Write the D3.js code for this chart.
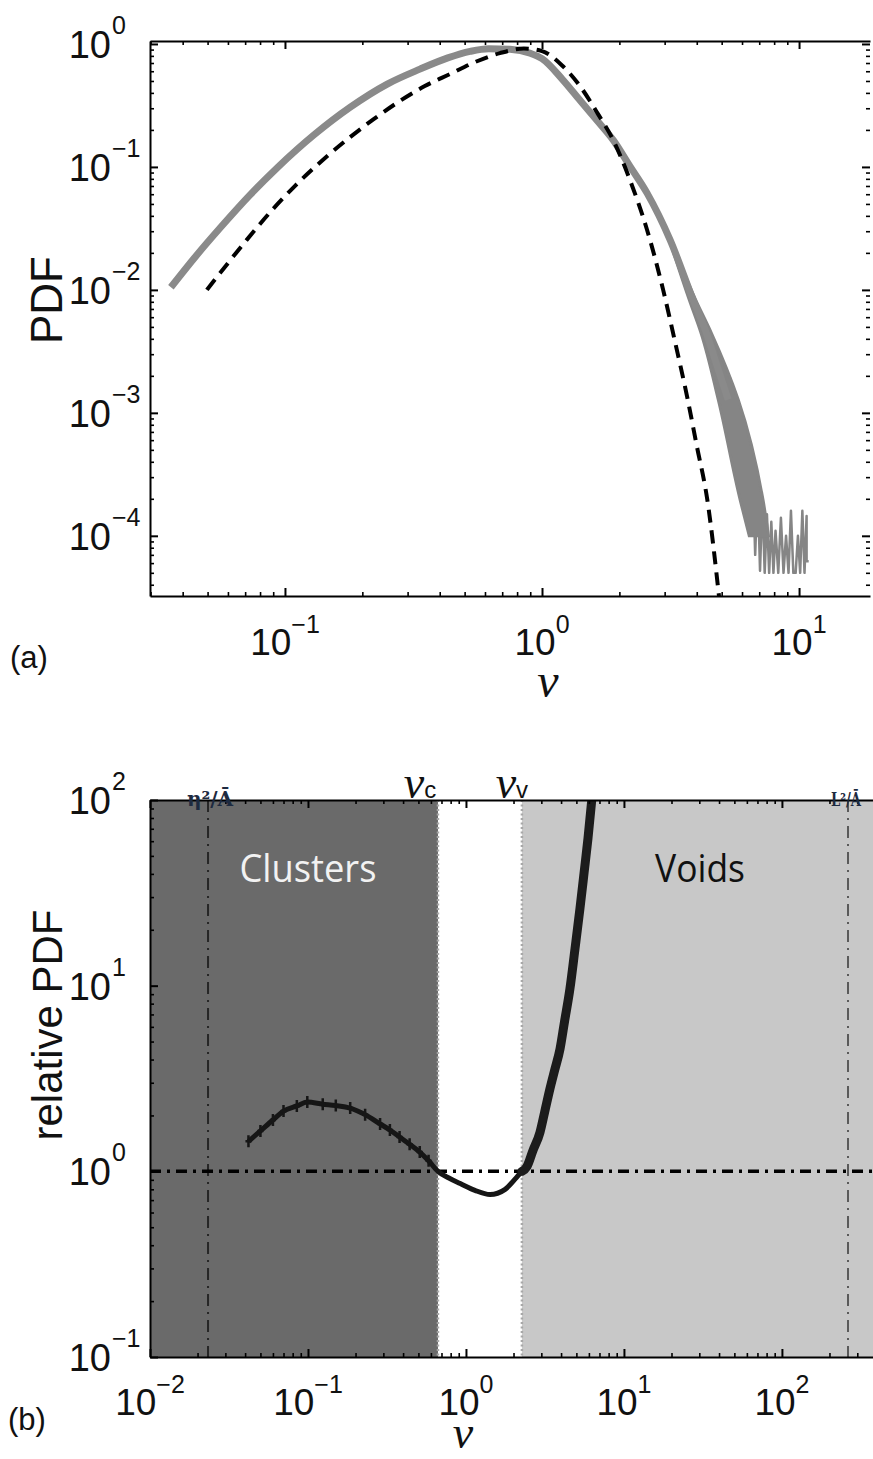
<!DOCTYPE html>
<html lang="en">
<head>
<meta charset="UTF-8">
<title>PDF of normalized cell areas</title>
<style>
  body { margin: 0; padding: 0; overflow: hidden; background: #fff; }
  svg { display: block; }
  text { font-family: "Liberation Sans", Arial, sans-serif; }
</style>
</head>
<body>
<script src="https://d3js.org/d3.v7.min.js"></script>
<script>
const width = 873, height = 1459;

// ---- panel (a): measured PDF (grey band) and reference curve (dashed) ----
const grayNu  = [0.036, 0.045, 0.056, 0.073, 0.094, 0.13, 0.179, 0.25, 0.335, 0.43, 0.525, 0.62, 0.75, 0.9, 1.0, 1.2, 1.41, 1.65, 1.89, 2.2, 2.56, 3.15, 3.87, 4.35, 4.8, 5.3];
const grayPdf = [0.0105, 0.0188, 0.032, 0.059, 0.100, 0.183, 0.305, 0.472, 0.624, 0.77, 0.87, 0.915, 0.905, 0.84, 0.76, 0.516, 0.345, 0.234, 0.166, 0.101, 0.0615, 0.0255, 0.0083, 0.0045, 0.0024, 0.00128];

// the band widens at large nu: left and right edge of the band at given PDF levels
const bandPdf  = [0.0255, 0.0083, 0.0045, 0.00128, 1.96e-4, 1.0e-4];
const bandNuLo = [3.13, 3.74, 4.15, 4.85, 5.9, 6.4];
const bandNuHi = [3.17, 3.96, 4.55, 5.8, 7.24, 7.6];

// noisy tail of the measured PDF
const tailNu  = [5.25, 5.4, 5.55, 5.7, 5.85, 6.0, 6.15, 6.3, 6.45, 6.6, 6.75, 6.9, 7.05, 7.2, 7.35, 7.5, 7.65, 7.8, 7.95, 8.1, 8.3, 8.5, 8.7, 8.9, 9.1, 9.3, 9.5, 9.7, 9.9, 10.1, 10.3, 10.5, 10.7, 10.7, 10.9];
const tailPdf = [1.0e-3, 1.9e-3, 6.0e-4, 1.2e-3, 3.2e-4, 8.0e-4, 1.8e-4, 5.0e-4, 1.1e-4, 3.6e-4, 7.0e-5, 2.6e-4, 5.2e-5, 2.0e-4, 5.0e-5, 1.5e-4, 5.0e-5, 1.3e-4, 5.0e-5, 1.1e-4, 5.0e-5, 1.4e-4, 5.0e-5, 1.0e-4, 5.0e-5, 1.6e-4, 5.0e-5, 5.0e-5, 1.0e-4, 5.0e-5, 1.6e-4, 5.0e-5, 1.45e-4, 6.2e-5, 6.2e-5];

const dashNu  = [0.0497, 0.06, 0.071, 0.09, 0.109, 0.14, 0.179, 0.22, 0.28, 0.35, 0.44, 0.55, 0.686, 0.85, 1.0, 1.2, 1.41, 1.65, 1.89, 2.2, 2.56, 2.96, 3.3, 3.67, 4.0, 4.39, 4.9];
const dashPdf = [0.0100, 0.0165, 0.0255, 0.0456, 0.0695, 0.1134, 0.1743, 0.2424, 0.344, 0.4544, 0.571, 0.714, 0.842, 0.918, 0.875, 0.665, 0.45, 0.27, 0.166, 0.078, 0.031, 0.0100, 0.0037, 0.00135, 5.4e-4, 2.0e-4, 3.0e-5];

// ---- panel (b): relative PDF ----
const relNu  = [0.042, 0.05, 0.06, 0.07, 0.085, 0.099, 0.124, 0.15, 0.185, 0.23, 0.286, 0.33, 0.38, 0.44, 0.51, 0.58, 0.665, 0.78, 0.92, 1.14, 1.42, 1.77, 2.05, 2.26, 2.43, 2.65, 2.94, 3.15, 3.4, 3.65, 3.94, 4.2, 4.55, 4.9, 5.27, 5.6, 5.92, 6.27];
const relPdf = [1.45, 1.65, 1.89, 2.11, 2.25, 2.36, 2.30, 2.26, 2.19, 2.02, 1.80, 1.67, 1.53, 1.40, 1.27, 1.14, 1.0, 0.92, 0.86, 0.79, 0.75, 0.80, 0.91, 1.0, 1.06, 1.29, 1.62, 2.09, 2.78, 3.53, 4.57, 6.36, 9.6, 15.8, 26.1, 40.9, 62, 102];

const nuC = 0.665, nuV = 2.26;       // cluster / void thresholds
const etaLine = 0.0233, lLine = 262; // eta^2/A and L^2/A

const xExpA = [-1, 0, 1];
const yExpA = [-4, -3, -2, -1, 0];
const xExpB = [-2, -1, 0, 1, 2];
const yExpB = [-1, 0, 1, 2];

const svg = d3.select("body").append("svg")
    .attr("width", width)
    .attr("height", height);
svg.append("rect").attr("width", width).attr("height", height).attr("fill", "#fff");

// scales
const xa = d3.scaleLog().domain([0.02985, 18.88]).range([150, 870]);
const ya = d3.scaleLog().domain([3.24e-5, 1.057]).range([596, 41]);
const xb = d3.scaleLog().domain([0.01, 394]).range([150, 876]);
const yb = d3.scaleLog().domain([0.1, 100]).range([1357, 800]);

const minorTicks = (dom) => {
    const out = [];
    for (let e = Math.floor(Math.log10(dom[0])); e <= Math.ceil(Math.log10(dom[1])); e++) {
        for (let m = 2; m <= 9; m++) {
            const v = m * Math.pow(10, e);
            if (v >= dom[0] && v <= dom[1]) out.push(v);
        }
    }
    return out;
};

// draw ticks for one side of a box
const drawSide = (axisFn, scale, tr, exps, withLine) => {
    const major = exps.map(e => Math.pow(10, e));
    const g = svg.append("g").attr("transform", tr);
    g.call(axisFn(scale).tickValues(major).tickSize(-8).tickSizeOuter(0).tickFormat(""));
    g.select(".domain").attr("stroke-width", withLine ? 2 : 0);
    g.selectAll(".tick line").attr("stroke-width", 2);
    const g2 = svg.append("g").attr("transform", tr);
    g2.call(axisFn(scale).tickValues(minorTicks(scale.domain())).tickSize(-4).tickSizeOuter(0).tickFormat(""));
    g2.select(".domain").remove();
    g2.selectAll(".tick line").attr("stroke-width", 1.6);
};

const xLabels = (scale, exps, y) => {
    exps.forEach(e => {
        const t = svg.append("text")
            .attr("x", scale(Math.pow(10, e)))
            .attr("y", y)
            .attr("text-anchor", "middle")
            .attr("font-size", 37)
            .attr("fill", "#111");
        t.append("tspan").text("10");
        t.append("tspan").attr("dy", -22).attr("font-size", 25).text(e < 0 ? "\u2212" + (-e) : e);
    });
};

const yLabels = (scale, exps) => {
    exps.forEach(e => {
        const y = scale(Math.pow(10, e));
        svg.append("text").attr("x", 111).attr("y", y + 14)
            .attr("text-anchor", "end").attr("font-size", 38).attr("fill", "#111").text("10");
        svg.append("text").attr("x", 112).attr("y", y - 10)
            .attr("font-size", 25).attr("fill", "#111").text(e < 0 ? "\u2212" + (-e) : e);
    });
};

// ================= panel (a) =================
svg.append("clipPath").attr("id", "clipA").append("rect")
    .attr("x", 150).attr("y", 41).attr("width", 720).attr("height", 555);
const pa = svg.append("g").attr("clip-path", "url(#clipA)");

const lineA = d3.line().x(d => xa(d[0])).y(d => ya(d[1])).curve(d3.curveMonotoneX);

pa.append("path")
    .attr("d", d3.line().x(d => xa(d[0])).y(d => ya(d[1]))(d3.zip(tailNu, tailPdf)))
    .attr("fill", "none").attr("stroke", "#858585").attr("stroke-width", 2.5)
    .attr("stroke-linejoin", "round");

pa.append("path")
    .attr("d", d3.area()
        .y(d => ya(d[0])).x0(d => xa(d[1])).x1(d => xa(d[2]))
        .curve(d3.curveMonotoneY)(d3.zip(bandPdf, bandNuLo, bandNuHi)))
    .attr("fill", "#858585").attr("stroke", "#858585").attr("stroke-width", 3);

pa.append("path")
    .attr("d", lineA(d3.zip(grayNu, grayPdf)))
    .attr("fill", "none").attr("stroke", "#8a8a8a").attr("stroke-width", 7)
    .attr("stroke-linejoin", "round");

pa.append("path")
    .attr("d", lineA(d3.zip(dashNu, dashPdf)))
    .attr("fill", "none").attr("stroke", "#000").attr("stroke-width", 4)
    .attr("stroke-dasharray", "13,8");

drawSide(d3.axisBottom, xa, "translate(0,596)", xExpA, true);
drawSide(d3.axisTop, xa, "translate(0,41)", xExpA, true);
drawSide(d3.axisLeft, ya, "translate(150,0)", yExpA, true);
drawSide(d3.axisRight, ya, "translate(870,0)", yExpA, false);

xLabels(xa, xExpA, 655);
yLabels(ya, yExpA);

svg.append("text").attr("transform", "translate(62,300) rotate(-90)")
    .attr("text-anchor", "middle").attr("font-size", 44).attr("fill", "#111").text("PDF");
svg.append("text").attr("x", 548).attr("y", 697)
    .attr("text-anchor", "middle").attr("font-size", 48).attr("font-style", "italic")
    .style("font-family", "'Liberation Serif', serif").attr("fill", "#111").text("\u03bd");
svg.append("text").attr("x", 10).attr("y", 668).attr("font-size", 31).attr("fill", "#111").text("(a)");

// ================= panel (b) =================
svg.append("clipPath").attr("id", "clipB").append("rect")
    .attr("x", 150).attr("y", 800).attr("width", 726).attr("height", 557);
const pb = svg.append("g").attr("clip-path", "url(#clipB)");

pb.append("rect")
    .attr("x", xb(0.01)).attr("y", yb(100))
    .attr("width", xb(nuC) - xb(0.01)).attr("height", yb(0.1) - yb(100))
    .attr("fill", "#6a6a6a");
pb.append("rect")
    .attr("x", xb(nuV)).attr("y", yb(100))
    .attr("width", xb.range()[1] - xb(nuV)).attr("height", yb(0.1) - yb(100))
    .attr("fill", "#c8c8c8");

// scale lines eta^2/A and L^2/A
[[etaLine, "#262626"], [lLine, "#5a5a5a"]].forEach(([v, c]) => {
    pb.append("line")
        .attr("x1", xb(v)).attr("x2", xb(v)).attr("y1", yb(100)).attr("y2", yb(0.1))
        .attr("stroke", c).attr("stroke-width", 2).attr("stroke-dasharray", "12,6,2,6");
});

// threshold boundaries
[nuC, nuV].forEach(v => {
    pb.append("line")
        .attr("x1", xb(v)).attr("x2", xb(v)).attr("y1", yb(100)).attr("y2", yb(0.1))
        .attr("stroke", "#a8a8a8").attr("stroke-width", 2.5).attr("stroke-dasharray", "2,2.5");
});

// reference level 1
pb.append("line")
    .attr("x1", xb.range()[0]).attr("x2", xb.range()[1]).attr("y1", yb(1)).attr("y2", yb(1))
    .attr("stroke", "#000").attr("stroke-width", 3.5).attr("stroke-dasharray", "11,6,3,6");

const relData = d3.zip(relNu, relPdf);
const lineB = d3.line().x(d => xb(d[0])).y(d => yb(d[1])).curve(d3.curveMonotoneX);
pb.append("path")
    .attr("d", lineB(relData))
    .attr("fill", "none").attr("stroke", "#161616").attr("stroke-width", 5)
    .attr("stroke-linejoin", "round");
pb.append("path")
    .attr("d", lineB(relData.filter(d => d[0] >= nuV)))
    .attr("fill", "none").attr("stroke", "#1c1c1c").attr("stroke-width", 9)
    .attr("stroke-linecap", "round");
pb.selectAll("path.mk").data(relData.filter(d => d[0] < nuC)).enter().append("path")
    .attr("class", "mk")
    .attr("transform", d => `translate(${xb(d[0])},${yb(d[1])})`)
    .attr("d", "M-3,0H3M0,-6V6")
    .attr("stroke", "#161616").attr("stroke-width", 2.5);

drawSide(d3.axisBottom, xb, "translate(0,1357)", xExpB, true);
drawSide(d3.axisTop, xb, "translate(0,800)", xExpB, true);
drawSide(d3.axisLeft, yb, "translate(150,0)", yExpB, true);

xLabels(xb, xExpB, 1415);
yLabels(yb, yExpB);

svg.append("text").attr("x", 308).attr("y", 882)
    .attr("text-anchor", "middle").attr("font-size", 38).attr("fill", "#f2f2f2")
    .attr("textLength", 137).attr("lengthAdjust", "spacingAndGlyphs")
    .style("font-family", "'Open Sans', sans-serif").text("Clusters");
svg.append("text").attr("x", 700).attr("y", 882)
    .attr("text-anchor", "middle").attr("font-size", 38).attr("fill", "#111")
    .attr("textLength", 90).attr("lengthAdjust", "spacingAndGlyphs")
    .style("font-family", "'Open Sans', sans-serif").text("Voids");

// labels above the top axis
const nuLabel = (x, sub) => {
    const t = svg.append("text").attr("x", x).attr("y", 798).attr("text-anchor", "middle").attr("fill", "#111");
    t.append("tspan").attr("font-size", 46).attr("font-style", "italic")
        .style("font-family", "'Liberation Serif', serif").text("\u03bd");
    t.append("tspan").attr("font-size", 24).text(sub);
};
nuLabel(xb(nuC) - 18, "c");
nuLabel(xb(nuV) - 10, "v");

svg.append("text").attr("x", xb(etaLine) + 2).attr("y", 806)
    .attr("text-anchor", "middle").attr("font-size", 20).attr("font-weight", "bold")
    .style("font-family", "'DejaVu Serif', serif").attr("fill", "#1d2a40").text("\u03b7\u00b2/\u0100");
svg.append("text").attr("x", xb(lLine) - 17).attr("y", 806)
    .attr("font-size", 18).attr("font-weight", "bold")
    .attr("textLength", 30).attr("lengthAdjust", "spacingAndGlyphs")
    .style("font-family", "'DejaVu Serif', serif").attr("fill", "#1d2a40").text("L\u00b2/\u0100");

svg.append("text").attr("transform", "translate(62,1025) rotate(-90)")
    .attr("text-anchor", "middle").attr("font-size", 42).attr("fill", "#111").text("relative PDF");
svg.append("text").attr("x", 463).attr("y", 1448)
    .attr("text-anchor", "middle").attr("font-size", 46).attr("font-style", "italic")
    .style("font-family", "'Liberation Serif', serif").attr("fill", "#111").text("\u03bd");
svg.append("text").attr("x", 8).attr("y", 1430).attr("font-size", 31).attr("fill", "#111").text("(b)");
</script>
</body>
</html>
